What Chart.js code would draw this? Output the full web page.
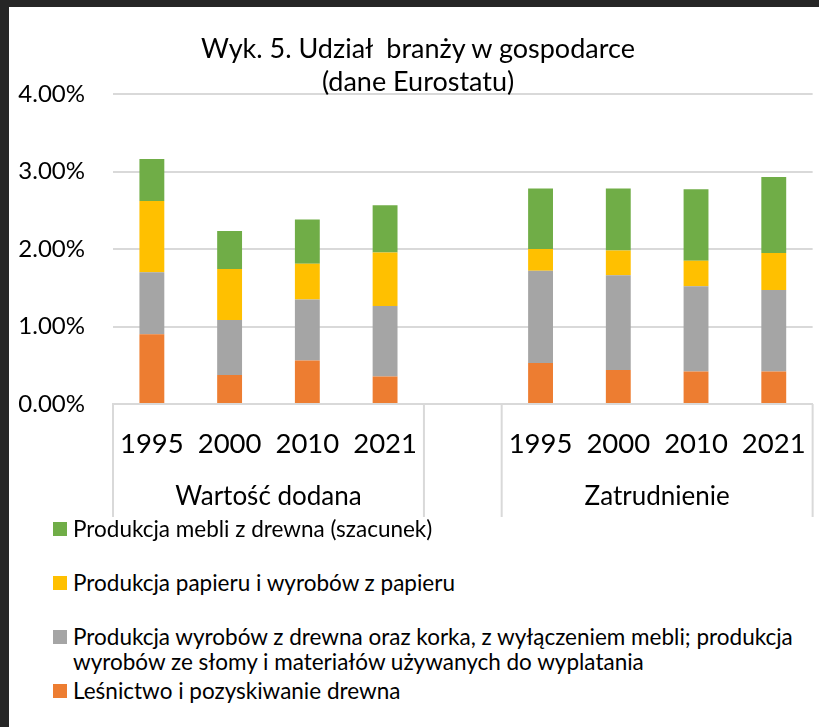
<!DOCTYPE html>
<html>
<head>
<meta charset="utf-8">
<script src="https://cdn.jsdelivr.net/npm/chart.js@4/dist/chart.umd.min.js"></script>
<style>
  html, body { margin:0; padding:0; width:819px; height:727px; overflow:hidden; background:#262626; position:relative; }
  #page { position:absolute; left:9px; top:7px; width:820px; height:730px; background:#ffffff; }
  #wrap { position:absolute; left:0; top:0; width:830px; height:540px; }
  #title { position:absolute; left:0; width:836px; top:31px; text-align:center; font-family:Lato, sans-serif; font-size:27px; line-height:33px; color:#000; }
  #legend { position:absolute; left:0; top:0; font-family:Lato, sans-serif; font-size:22.5px; color:#000; }
  .item { position:absolute; left:53px; width:766px; }
  .sw { position:absolute; left:0; top:0; width:14px; height:14px; }
  .tx { position:absolute; left:20px; top:-6px; line-height:25px; white-space:pre; }
</style>
</head>
<body>
<div id="page"></div>
<div id="wrap"><canvas id="c" width="830" height="540"></canvas></div>
<div id="title">Wyk. 5. Udział&nbsp; branży w gospodarce<br>(dane Eurostatu)</div>
<div id="legend"></div>
<script>
const categories = ['1995','2000','2010','2021','','1995','2000','2010','2021'];
const groups = ['Wartość dodana','Zatrudnienie'];
const groupRanges = [[0,3],[5,8]];
const yTicks = [0,1,2,3,4];

const seriesNames = [
  'Leśnictwo i pozyskiwanie drewna',
  'Produkcja wyrobów z drewna oraz korka, z wyłączeniem mebli; produkcja\nwyrobów ze słomy i materiałów używanych do wyplatania',
  'Produkcja papieru i wyrobów z papieru',
  'Produkcja mebli z drewna (szacunek)'
];
const lesnictwo = [0.90, 0.375, 0.56, 0.355, null, 0.53, 0.44, 0.42, 0.42];
const drewno    = [0.80, 0.71, 0.79, 0.91, null, 1.19, 1.22, 1.10, 1.05];
const papier    = [0.92, 0.656, 0.46, 0.69, null, 0.28, 0.32, 0.33, 0.48];
const meble     = [0.54, 0.49, 0.57, 0.61, null, 0.78, 0.80, 0.92, 0.98];
const colors = ['#ed7d31','#a5a5a5','#ffc000','#70ad47'];
const seriesData = [lesnictwo, drewno, papier, meble];

const FONT = 'Lato, sans-serif';
const GRID = '#d9d9d9';

const groupPlugin = {
  id: 'groupAxis',
  afterDraw(chart) {
    const x = chart.scales.x;
    const ctx = chart.ctx;
    const half = (x.getPixelForValue(1) - x.getPixelForValue(0)) / 2;
    const y0 = chart.chartArea.bottom;
    ctx.save();
    ctx.strokeStyle = GRID;
    ctx.lineWidth = 2;
    groupRanges.forEach(([a,b]) => {
      [x.getPixelForValue(a) - half, x.getPixelForValue(b) + half].forEach(px => {
        ctx.beginPath(); ctx.moveTo(px, y0); ctx.lineTo(px, y0 + 113); ctx.stroke();
      });
    });
    ctx.fillStyle = '#000';
    ctx.font = '26px ' + FONT;
    ctx.textAlign = 'center';
    ctx.textBaseline = 'middle';
    groupRanges.forEach(([a,b], i) => {
      const cx = (x.getPixelForValue(a) + x.getPixelForValue(b)) / 2;
      ctx.fillText(groups[i], cx, y0 + 93);
    });
    ctx.restore();
  }
};

const chart = new Chart(document.getElementById('c'), {
  type: 'bar',
  data: {
    labels: categories,
    datasets: seriesData.map((d, i) => ({
      label: seriesNames[i],
      data: d,
      backgroundColor: colors[i],
      borderWidth: 0,
      barPercentage: 0.32,
      categoryPercentage: 1.0
    }))
  },
  options: {
    responsive: false,
    animation: false,
    layout: { padding: { top: 94, left: 0, right: 6, bottom: 0 } },
    plugins: { legend: { display: false }, title: { display: false }, tooltip: { enabled: false } },
    scales: {
      x: {
        stacked: true,
        grid: { display: false, drawTicks: false },
        border: { display: true, color: GRID, width: 2 },
        ticks: { color: '#000', font: { family: FONT, size: 27.5 }, padding: 24, maxRotation: 0, autoSkip: false },
        afterFit(scale) { scale.height = 540 - 404; }
      },
      y: {
        stacked: true,
        min: 0, max: 4,
        afterBuildTicks(scale) { scale.ticks = yTicks.map(v => ({ value: v })); },
        grid: { color: GRID, lineWidth: 2, drawTicks: false },
        border: { display: false },
        ticks: { color: '#000', font: { family: FONT, size: 24 }, padding: 28, callback: v => v.toFixed(2) + '%' },
        afterFit(scale) { scale.width = 113; }
      }
    }
  },
  plugins: [groupPlugin]
});

// HTML legend (order: reverse of stacking)
const legend = document.getElementById('legend');
const rowCenters = [529, 583, 637, 691];
chart.data.datasets.slice().reverse().forEach((ds, i) => {
  const it = document.createElement('div');
  it.className = 'item';
  it.style.top = (rowCenters[i] - 7) + 'px';
  const sw = document.createElement('div'); sw.className = 'sw'; sw.style.background = ds.backgroundColor;
  const tx = document.createElement('div'); tx.className = 'tx'; tx.textContent = ds.label;
  it.appendChild(sw); it.appendChild(tx); legend.appendChild(it);
});
</script>
</body>
</html>
